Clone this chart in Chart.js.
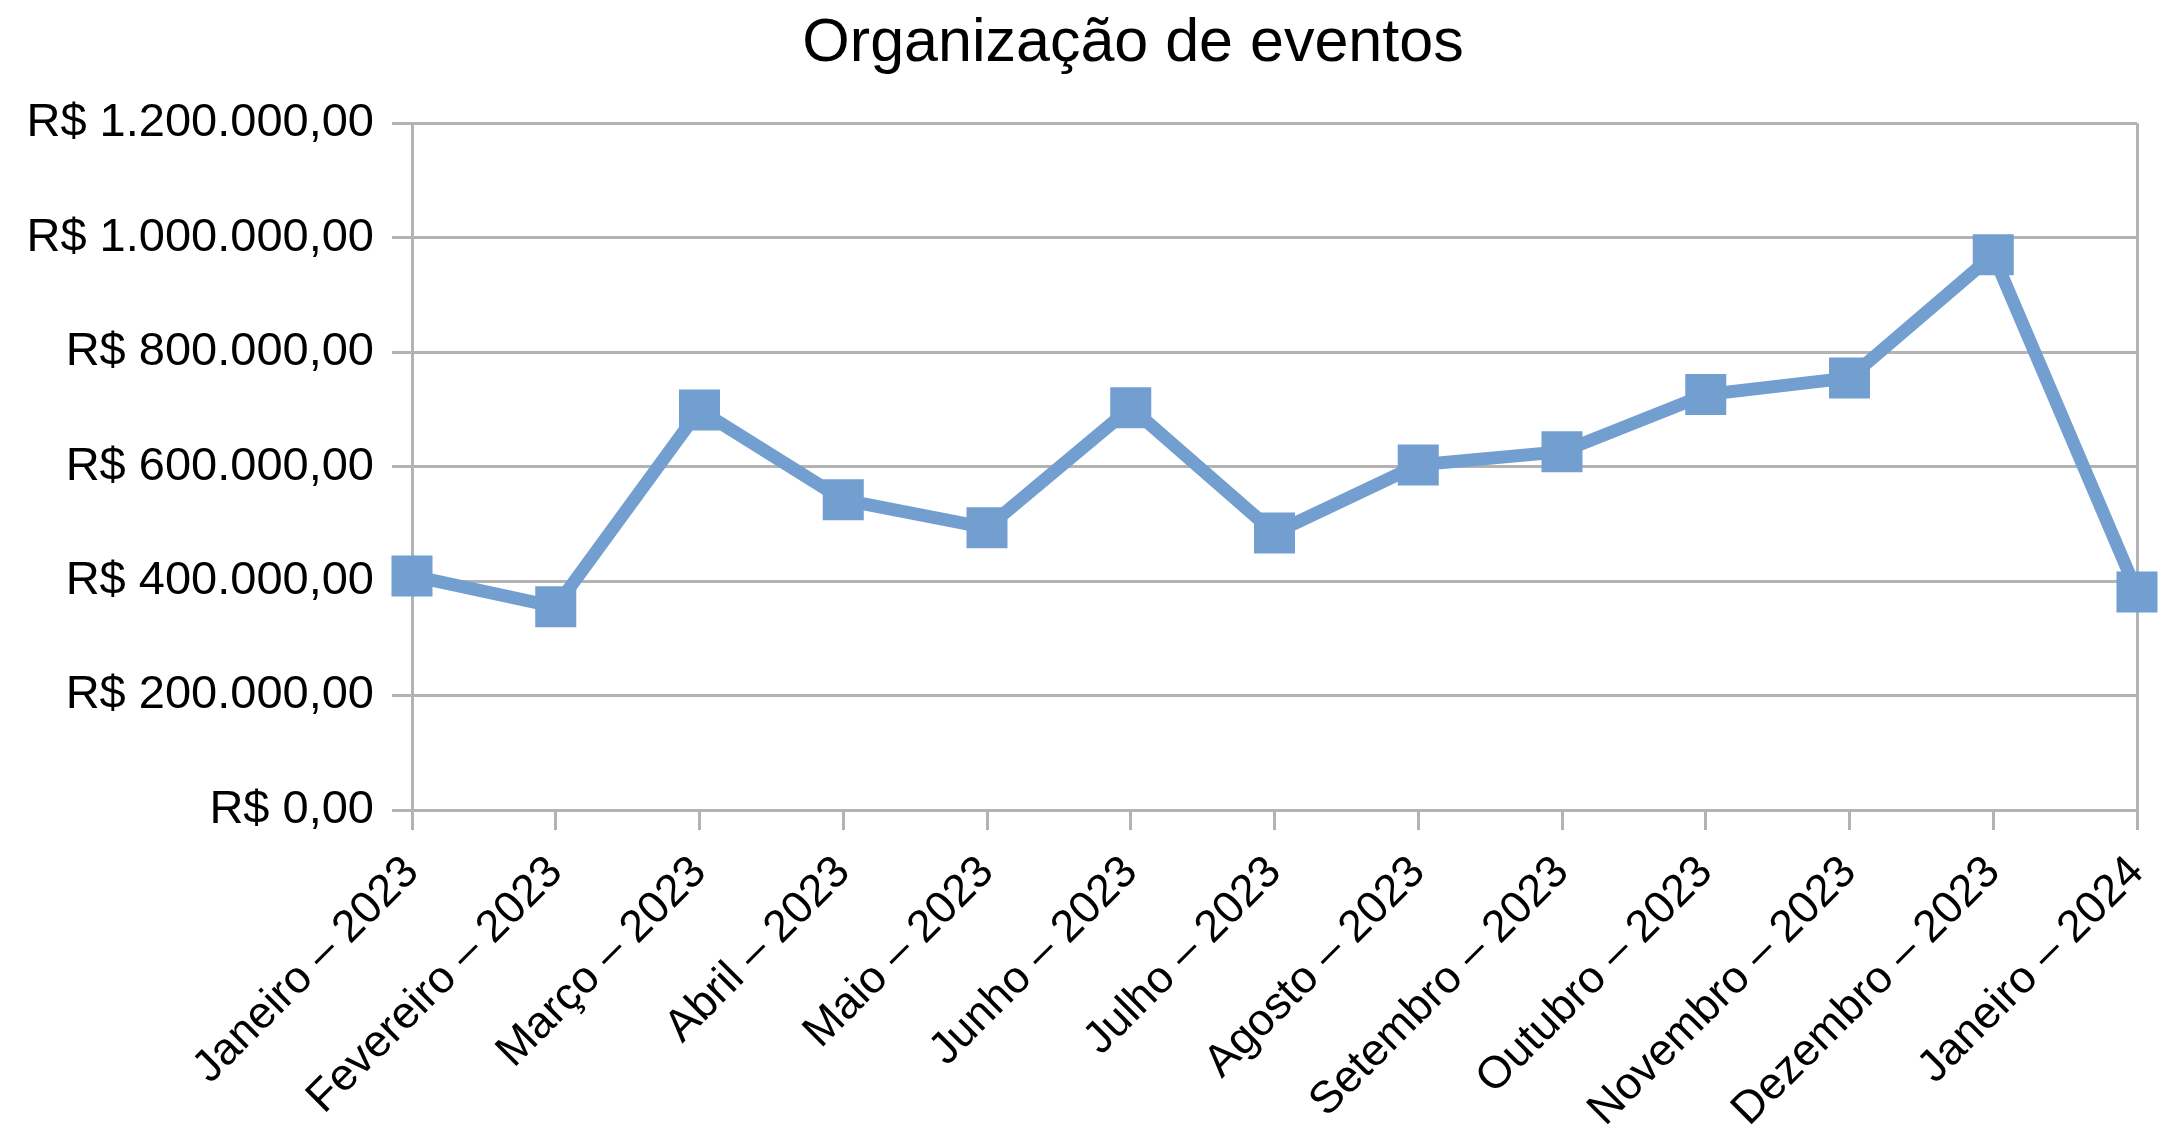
<!DOCTYPE html>
<html>
<head>
<meta charset="utf-8">
<script src="https://cdn.jsdelivr.net/npm/chart.js@4.4.0/dist/chart.umd.min.js"></script>
<style>
  html, body { margin: 0; padding: 0; background: #ffffff; }
  #wrap { width: 2166px; height: 1142px; }
</style>
</head>
<body>
<div id="wrap"><canvas id="c" width="2166" height="1142"></canvas></div>
<script>
const chartTitle = "Organização de eventos";
const categories = [
  "Janeiro – 2023", "Fevereiro – 2023", "Março – 2023", "Abril – 2023",
  "Maio – 2023", "Junho – 2023", "Julho – 2023", "Agosto – 2023",
  "Setembro – 2023", "Outubro – 2023", "Novembro – 2023", "Dezembro – 2023",
  "Janeiro – 2024"
];
const values = [409000, 355000, 699000, 542000, 493000, 703000, 484000, 603000, 626000, 726000, 755000, 970000, 381000];
const yTicks = [0, 200000, 400000, 600000, 800000, 1000000, 1200000];

function formatBRL(v) {
  const intPart = Math.round(v).toString().replace(/\B(?=(\d{3})+(?!\d))/g, ".");
  return "R$ " + intPart + ",00";
}

const gray = "#b3b3b3";
const lineColor = "#729fcf";
const fontFamily = "'Liberation Sans', Arial, sans-serif";

// allow y tick labels to extend beyond the scale box (left of the layout padding)
const noLabelClip = {
  id: "noLabelClip",
  beforeDraw(chart) {
    const y = chart.scales.y;
    if (y) { y._computeLabelArea = function () { return undefined; }; }
  }
};

new Chart(document.getElementById("c"), {
  type: "line",
  plugins: [noLabelClip],
  data: {
    labels: categories,
    datasets: [{
      data: values,
      borderColor: lineColor,
      backgroundColor: lineColor,
      borderWidth: 13,
      tension: 0,
      pointStyle: "rect",
      pointRadius: 29,
      pointHoverRadius: 29,
      pointBorderWidth: 0,
      pointBackgroundColor: lineColor,
      clip: false
    }]
  },
  options: {
    responsive: false,
    animation: false,
    devicePixelRatio: 1,
    layout: { padding: { left: 100, right: 0, top: 0, bottom: 0 } },
    plugins: {
      legend: { display: false },
      tooltip: { enabled: false },
      title: {
        display: true,
        text: chartTitle,
        color: "#000000",
        font: { family: fontFamily, size: 61, weight: "normal", lineHeight: 1.2 },
        padding: { top: 8, bottom: 42 }
      }
    },
    scales: {
      x: {
        type: "category",
        offset: false,
        grid: {
          display: true,
          color: (ctx) => (ctx.index === categories.length - 1 ? gray : "rgba(0,0,0,0)"),
          lineWidth: 3,
          tickColor: gray,
          tickLength: 20,
          drawOnChartArea: true
        },
        border: { display: true, color: gray, width: 3 },
        ticks: {
          autoSkip: false,
          maxRotation: 45,
          minRotation: 45,
          color: "#000000",
          padding: 16,
          font: { family: fontFamily, size: 45 }
        },
        afterFit: (scale) => {
          scale.height = 332;
          scale.paddingLeft = 0;
          scale.paddingRight = 18;
        }
      },
      y: {
        min: 0,
        max: 1200000,
        afterBuildTicks: (scale) => { scale.ticks = yTicks.map(v => ({ value: v })); },
        grid: {
          color: gray,
          lineWidth: 3,
          tickColor: gray,
          tickLength: 20
        },
        border: { display: true, color: gray, width: 3 },
        ticks: {
          color: "#000000",
          padding: 18,
          font: { family: fontFamily, size: 47 },
          callback: (v) => formatBRL(v)
        },
        afterFit: (scale) => {
          scale.width = 312;
          scale.paddingTop = 0;
          scale.paddingBottom = 0;
        }
      }
    }
  }
});
</script>
</body>
</html>
